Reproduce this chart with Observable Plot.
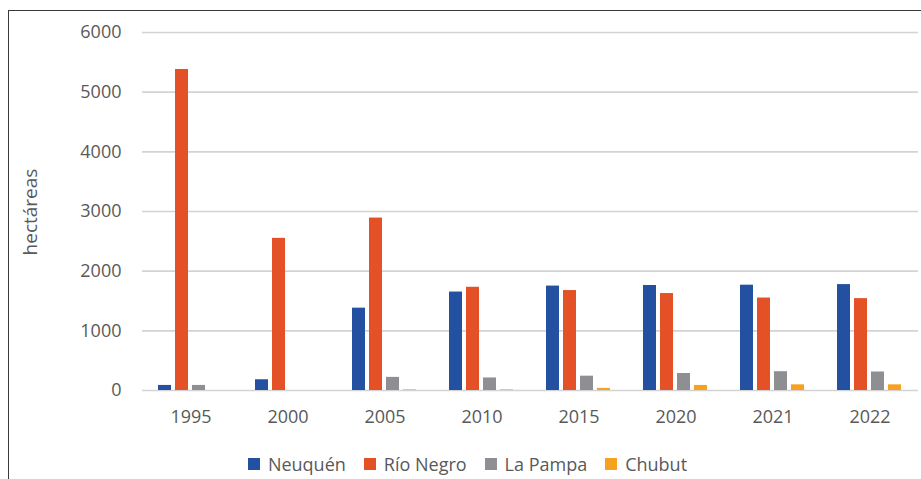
<!DOCTYPE html>
<html>
<head>
<meta charset="utf-8">
<script src="https://cdn.jsdelivr.net/npm/d3@7"></script>
<script src="https://cdn.jsdelivr.net/npm/@observablehq/plot@0.6"></script>
<style>
  html, body { margin: 0; padding: 0; background: #fff; }
  body { width: 921px; height: 479px; position: relative; overflow: hidden; font-family: "Open Sans", sans-serif; }
  #frame { position: absolute; left: 8px; top: 10px; width: 920px; height: 480px;
           border-top: 1.5px solid #3a3a3a; border-left: 1.5px solid #3a3a3a; box-sizing: border-box; }
  #chart { position: absolute; left: 0; top: 0; }
  #ylabel { position: absolute; left: 30px; top: 212px; transform: translate(-50%, -50%) rotate(-90deg);
            font-size: 19px; color: #595959; white-space: nowrap; }
  #legend { position: absolute; left: 0; top: 449px; width: 935px; height: 30px;
            display: flex; justify-content: center; align-items: center; gap: 18px;
            font-size: 18px; color: #595959; }
  .item { display: flex; align-items: center; gap: 8px; }
  .sw { width: 12px; height: 12px; display: inline-block; }
</style>
</head>
<body>
<div id="frame"></div>
<div id="chart"></div>
<div id="ylabel">hectáreas</div>
<div id="legend"></div>
<script>
const years = ["1995", "2000", "2005", "2010", "2015", "2020", "2021", "2022"];
const seriesNames = ["Neuquén", "Río Negro", "La Pampa", "Chubut"];
const neuquen  = [85, 180, 1380, 1650, 1750, 1760, 1765, 1775];
const rioNegro = [5380, 2550, 2890, 1730, 1675, 1625, 1550, 1540];
const laPampa  = [85, 0, 220, 210, 240, 285, 315, 310];
const chubut   = [0, 0, 10, 10, 35, 85, 95, 95];
const colors = ["#2350A0", "#E45127", "#8E8F93", "#F8A11E"];
const yTicks = [0, 1000, 2000, 3000, 4000, 5000, 6000];

const seriesValues = [neuquen, rioNegro, laPampa, chubut];
const data = [];
years.forEach((yr, i) => {
  seriesNames.forEach((s, j) => data.push({year: yr, serie: s, value: seriesValues[j][i]}));
});

const chart = Plot.plot({
  width: 921,
  height: 440,
  marginTop: 32,
  marginBottom: 50,
  marginLeft: 141,
  marginRight: 2,
  style: {fontFamily: "Open Sans", fontSize: "18px", color: "#595959", background: "transparent", overflow: "visible"},
  facet: {data: data, x: "year"},
  fx: {domain: years, padding: 0, label: null, tickSize: 0, tickPadding: 20, axis: "bottom"},
  x: {domain: seriesNames, paddingInner: 0.22, paddingOuter: 0.81, axis: null},
  y: {domain: [0, 6000], ticks: 6, tickSize: 0, tickPadding: 21, tickFormat: d3.format("d"), label: null},
  color: {domain: seriesNames, range: colors},
  marks: [
    Plot.ruleY(yTicks, {y: d => d, stroke: "#d3d3d3", strokeWidth: 1.6}),
    Plot.barY(data, {x: "serie", y: "value", fill: "serie"})
  ]
});
document.getElementById("chart").appendChild(chart);

const legend = document.getElementById("legend");
seriesNames.forEach((s, i) => {
  const it = document.createElement("div");
  it.className = "item";
  const sw = document.createElement("span");
  sw.className = "sw";
  sw.style.background = colors[i];
  const tx = document.createElement("span");
  tx.textContent = s;
  it.appendChild(sw);
  it.appendChild(tx);
  legend.appendChild(it);
});
</script>
</body>
</html>
